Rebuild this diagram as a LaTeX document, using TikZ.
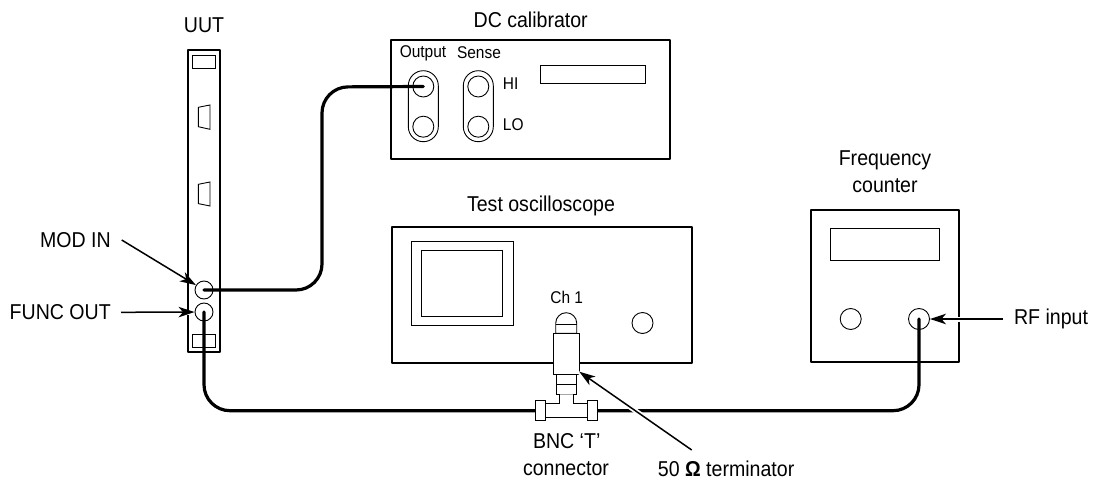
\documentclass[tikz,border=0pt]{standalone}
\usepackage{fontspec}
\setmainfont[FakeStretch=0.91]{Liberation Sans}
\usetikzlibrary{arrows.meta}
\tikzset{
  x=1pt,y=-1pt,
  box/.style={draw,line width=2.2pt,line join=round},
  thin part/.style={draw,line width=.9pt},
  cable/.style={draw,line width=3.2pt,rounded corners=26pt,line cap=round},
  lbl/.style={inner sep=0pt,font=\fontsize{21.5}{26.5}\selectfont,align=center},
  slbl/.style={inner sep=0pt,font=\fontsize{17}{19}\selectfont},
  lead/.style={draw,line width=1.5pt,-{Stealth[length=16pt,width=10.5pt,inset=4.5pt]}},
  halo/.style={draw=white,line width=5pt},
  knob/.style={circle,draw,line width=.9pt,minimum size=21pt,inner sep=0pt,fill=white},
  knobu/.style={circle,draw,line width=.9pt,minimum size=18pt,inner sep=0pt,fill=white},
  pill/.style={draw,line width=.9pt,rounded corners=15pt}
}
\begin{document}
\begin{tikzpicture}
\useasboundingbox (0,0) rectangle (1102,484);
\fill[white] (0,0) rectangle (1102,484);
% UUT
\node[lbl] (tuut) at (204,25) {UUT};
\draw[box] (188,50) rectangle (220,352);
\draw[thin part] (192.5,55) rectangle (215.5,68);
\draw[thin part] (192.5,334) rectangle (215.5,347.5);
\draw[thin part] (198.3,107.3) -- (210,105) -- (210,129.3) -- (198.3,126.7) -- cycle;
\draw[thin part] (198.3,184.3) -- (210,182) -- (210,206) -- (198.3,203.6) -- cycle;
% DC calibrator
\node[lbl] (tdc) at (530.7,20) {DC calibrator};
\draw[box] (390.7,40) rectangle (670,159);
\node[slbl] (lout) at (423,53) {Output};
\node[slbl] (lsense) at (479,53) {Sense};
\node[slbl,anchor=west] (lhi) at (502.7,84) {HI};
\node[slbl,anchor=west] (llo) at (502.7,125) {LO};
\draw[pill] (408.3,70.7) rectangle (438.3,141.7);
\draw[pill] (463.3,70.7) rectangle (493.3,141.7);
\node[knob] (o1) at (423.3,86.5) {};
\node[knob] (o2) at (423.3,126.7) {};
\node[knob] (s1) at (478.3,86.5) {};
\node[knob] (s2) at (478.3,126.7) {};
\draw[thin part] (540.7,65.3) rectangle (645,83.3);
% Oscilloscope
\node[lbl] (tsc) at (541,206) {Test oscilloscope};
\draw[box] (391.7,227.3) rectangle (691.7,362.7);
\draw[thin part] (411,241) rectangle (513.3,325.7);
\draw[thin part] (421.7,250) rectangle (502.3,316.7);
\node[slbl] (lch) at (566.7,297) {Ch 1};
\node[knob] (k3) at (642.5,323) {};
% Counter
\node[lbl] (tfc) at (885,171.5) {Frequency\\counter};
\draw[box] (811,210) rectangle (958.7,362.3);
\draw[thin part] (830.3,228.3) rectangle (939.7,260.3);
% halos of the leaders, under the knobs
\coordinate (ta) at (691.7,450);
\coordinate (tt) at (579.3,371.7);
\coordinate (ma) at (121.7,240);
\coordinate (fa) at (121,312.3);
\coordinate (ra) at (1003,319);
\draw[halo] (ma) -- (196,284);
\draw[halo] (fa) -- (195,312.3);
\draw[halo] (ra) -- (930,319);
\node[knobu] (modin) at (204,290) {};
\node[knobu] (funcout) at (204,312) {};
\node[knob] (k1) at (850.7,319) {};
\node[knob] (k2) at (919,319) {};
% cables
\draw[cable] (modin.center) -- (322,290) -- (322,87) -- (o1.center);
\draw[cable] (funcout.center) -- (204,410.7) -- (919,410.7) -- (k2.center);
% terminator & T
\draw[thin part,fill=white] (555.7,333.3) -- (555.7,323.2) arc[start angle=180,end angle=360,radius=10.5] -- (576.7,333.3) -- cycle;
\draw[thin part] (555.7,324) -- (576.7,324);
\draw[thin part,fill=white] (553.3,333.3) rectangle (579,374);
\draw[thin part,fill=white] (556,374) rectangle (576.7,394.3);
\draw[thin part] (556,384) -- (576.7,384);
\draw[thin part,fill=white] (559.3,394.3) -- (559.3,403.5) -- (545.7,403.5) -- (545.7,417.3) -- (587.3,417.3) -- (587.3,403.5) -- (573.3,403.5) -- (573.3,394.3);
\draw[thin part,fill=white] (535.3,400) rectangle (545.7,420.7);
\draw[thin part,fill=white] (587.3,400) rectangle (597.3,420.7);
\node[lbl] (lbnc) at (566.7,441.5) {BNC ‘T’};
\node[lbl] (lconn) at (566,469) {connector};
\node[lbl,anchor=west] (lterm) at (657.7,469) {50 \textbf{Ω} terminator};
% leaders
\draw[halo] (ta) -- (tt);
\draw[lead] (ta) -- (tt);
\node[lbl,anchor=east] (lmod) at (111,240) {MOD IN};
\node[lbl,anchor=east] (lfun) at (111,312.3) {FUNC OUT};
\node[lbl] (lrf) at (1051,319) {RF input};
\draw[lead] (ma) -- (modin);
\draw[lead] (fa) -- (funcout);
\draw[lead] (ra) -- (k2);
\end{tikzpicture}
\end{document}
